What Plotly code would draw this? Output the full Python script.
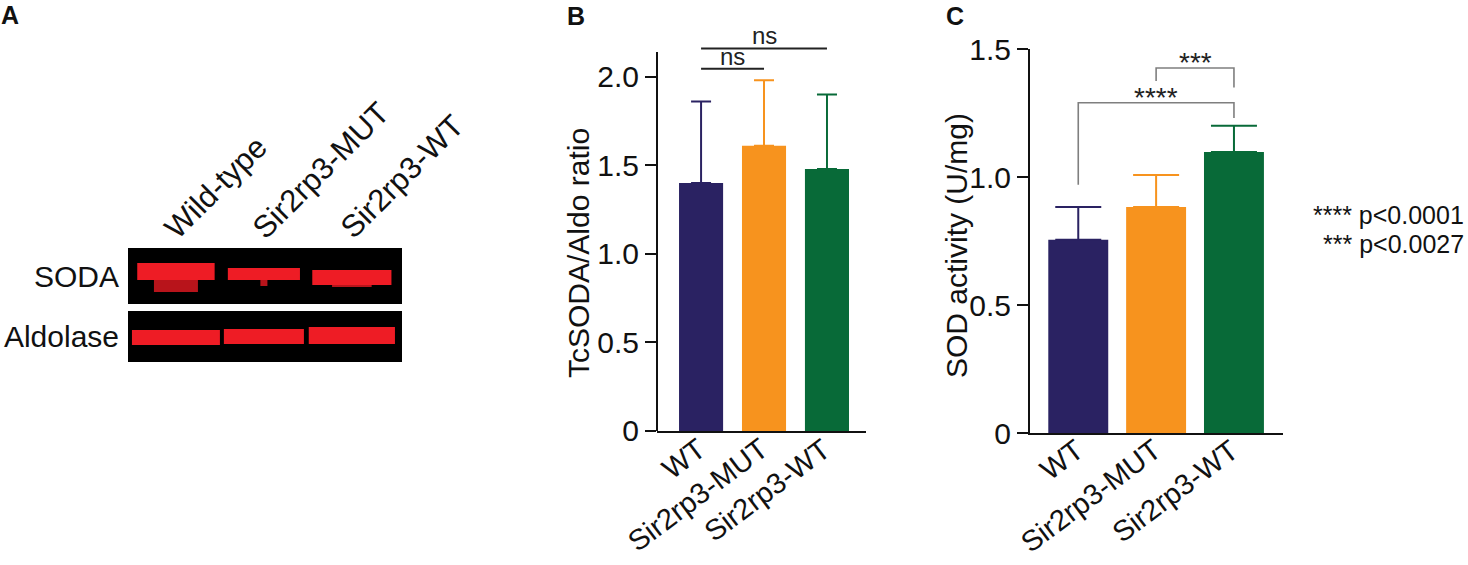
import plotly.graph_objects as go

W, H = 1468, 565
FONT = "Liberation Sans, Arial, sans-serif"

# ---------------- data ----------------
groups = ["WT", "Sir2rp3-MUT", "Sir2rp3-WT"]
colors = ["#2A2262", "#F7931E", "#086A38"]

ratio_mean = [1.40, 1.61, 1.48]        # panel B
ratio_err = [0.46, 0.37, 0.42]
ratio_ticks = [0, 0.5, 1.0, 1.5, 2.0]
ratio_ticktext = ["0", "0.5", "1.0", "1.5", "2.0"]
ratio_axis_top = 2.14

sod_mean = [0.755, 0.883, 1.098]       # panel C
sod_err = [0.128, 0.125, 0.102]
sod_ticks = [0, 0.5, 1.0, 1.5]
sod_ticktext = ["0", "0.5", "1.0", "1.5"]

# panel A western blot (lane index, band vertical extent and relative width)
lanes = ["Wild-type", "Sir2rp3-MUT", "Sir2rp3-WT"]
rows = ["SODA", "Aldolase"]
row_centers = [86, 25.5]
blot_top = 114
soda_base = [82, 82, 77]
soda_thick = [17, 12, 15]
soda_width = [0.88, 0.82, 0.90]
soda_smear_base = [70, 76, 75]
soda_smear_thick = [13, 6, 3]
soda_smear_width = [0.5, 0.08, 0.45]
aldo_base = [17, 18, 18]
aldo_thick = [15, 15, 17]
aldo_width = [1.0, 0.91, 0.98]

# significance annotations
ns_pairs = [(0, 1, 2.045), (0, 2, 2.16)]
brackets = [  # (x left, x right, y top, left leg bottom, right leg bottom, label)
    (0, 2, 1.29, 0.97, 1.23, "****"),
    (1, 2, 1.426, 1.375, 1.35, "***"),
]
pvalue_notes = ["**** p<0.0001", "*** p<0.0027"]


def px_x(p):
    return p / W


def px_y(p):
    return 1 - p / H


fig = go.Figure()

# ---------------- panel A ----------------
red = "#EE1C25"
fig.add_trace(go.Bar(x=[0, 1, 2], y=soda_smear_thick, base=soda_smear_base, width=soda_smear_width,
                     marker=dict(color="#B8141B", line=dict(width=0)),
                     xaxis="x3", yaxis="y3", showlegend=False, hoverinfo="skip"))
fig.add_trace(go.Bar(x=[0, 1, 2], y=soda_thick, base=soda_base, width=soda_width,
                     marker=dict(color=red, line=dict(width=0)),
                     xaxis="x3", yaxis="y3", showlegend=False, hoverinfo="skip"))
fig.add_trace(go.Bar(x=[0, 1, 2], y=aldo_thick, base=aldo_base, width=aldo_width,
                     marker=dict(color=red, line=dict(width=0)),
                     xaxis="x3", yaxis="y3", showlegend=False, hoverinfo="skip"))
for y0, y1 in [(58, blot_top), (0, 51)]:
    fig.add_shape(type="rect", xref="x3 domain", yref="y3", x0=0, x1=1, y0=y0, y1=y1,
                  fillcolor="black", line=dict(width=0), layer="below")
for i, lab in enumerate(lanes):
    fig.add_annotation(x=i, y=blot_top, xref="x3", yref="y3", text=lab, showarrow=False,
                       textangle=-45, xanchor="left", yanchor="bottom", xshift=-21, yshift=0,
                       font=dict(family=FONT, size=31, color="#111"))

# ---------------- panel B ----------------
for i, g in enumerate(groups):
    fig.add_trace(go.Bar(x=[i], y=[ratio_mean[i]], width=0.70,
                         marker=dict(color=colors[i], line=dict(width=0)),
                         error_y=dict(type="data", array=[ratio_err[i]], arrayminus=[0], symmetric=False,
                                      color=colors[i], thickness=2, width=10),
                         xaxis="x", yaxis="y", showlegend=False))

# y axis line of B drawn only up to its top value
fig.add_shape(type="line", xref="x domain", yref="y", x0=0, x1=0, y0=0, y1=ratio_axis_top,
              line=dict(color="#111", width=2))

for a, b, yv in ns_pairs:
    fig.add_shape(type="line", xref="x", yref="y", x0=a, x1=b, y0=yv, y1=yv,
                  line=dict(color="#222", width=2))
    fig.add_annotation(x=(a + b) / 2, y=yv, xref="x", yref="y", text="ns", showarrow=False,
                       yanchor="bottom", yshift=-3, font=dict(family=FONT, size=24, color="#222"))

# ---------------- panel C ----------------
for i, g in enumerate(groups):
    fig.add_trace(go.Bar(x=[i], y=[sod_mean[i]], width=0.77,
                         marker=dict(color=colors[i], line=dict(width=0)),
                         error_y=dict(type="data", array=[sod_err[i]], arrayminus=[0], symmetric=False,
                                      color=colors[i], thickness=2, width=23),
                         xaxis="x2", yaxis="y2", showlegend=False))

for xl, xr, yt, yl, yr, lab in brackets:
    fig.add_trace(go.Scatter(x=[xl, xl, xr, xr], y=[yl, yt, yt, yr], mode="lines",
                             line=dict(color="#7F7F7F", width=1.6),
                             xaxis="x2", yaxis="y2", showlegend=False, hoverinfo="skip"))
    fig.add_annotation(x=(xl + xr) / 2, y=yt, xref="x2", yref="y2", text=lab, showarrow=False,
                       yanchor="bottom", yshift=-12, font=dict(family=FONT, size=28, color="#222"))

# rotated category labels under the bars of B and C
for xr_, yr_, dx, dy in [("x", "y", 11, 0), ("x2", "y2", 12, 1)]:
    for i, g in enumerate(groups):
        fig.add_annotation(x=i, y=0, xref=xr_, yref=yr_, text=g, showarrow=False,
                           textangle=-37, xanchor="right", yanchor="top", xshift=dx, yshift=dy,
                           borderpad=0, font=dict(family=FONT, size=29, color="#111"))

# ---------------- axes ----------------
axis_common = dict(showgrid=False, zeroline=False, fixedrange=True, automargin=False)
tickfont = dict(family=FONT, size=30, color="#111")

b_unit = (431 - 52) / ratio_axis_top   # px per unit on panel B
b_range_top = 2.25

fig.update_layout(
    template="none",
    xaxis=dict(domain=[px_x(657), px_x(866)], range=[-0.70, 2.62], anchor="y",
               showline=True, linewidth=2, linecolor="#111", ticks="",
               tickvals=[0, 1, 2], showticklabels=False, **axis_common),
    yaxis=dict(domain=[px_y(431), px_y(431 - b_unit * b_range_top)], range=[0, b_range_top], anchor="x",
               showline=False, ticks="outside", ticklen=11,
               tickwidth=2, tickcolor="#111", tickvals=ratio_ticks, ticktext=ratio_ticktext,
               tickfont=tickfont, **axis_common),
    xaxis2=dict(domain=[px_x(1030), px_x(1283)], range=[-0.62, 2.63], anchor="y2",
                showline=True, linewidth=2, linecolor="#111", ticks="",
                tickvals=[0, 1, 2], showticklabels=False, **axis_common),
    yaxis2=dict(domain=[px_y(433), px_y(49)], range=[0, 1.5], anchor="x2",
                showline=True, linewidth=2, linecolor="#111", ticks="outside", ticklen=11,
                tickwidth=2, tickcolor="#111", tickvals=sod_ticks, ticktext=sod_ticktext,
                tickfont=tickfont, **axis_common),
    xaxis3=dict(domain=[px_x(128), px_x(402)], range=[-0.545, 2.57], anchor="y3", side="top",
                showline=False, ticks="", tickvals=[0, 1, 2], showticklabels=False, **axis_common),
    yaxis3=dict(domain=[px_y(362), px_y(248)], range=[0, blot_top], anchor="x3",
                showline=False, ticks="", tickvals=row_centers, ticktext=rows,
                ticklabelstandoff=8, tickfont=tickfont, **axis_common),
    barmode="overlay",
    width=W, height=H,
    margin=dict(l=0, r=0, t=0, b=0),
    paper_bgcolor="white", plot_bgcolor="white",
    font=dict(family=FONT, color="#111"),
    showlegend=False,
)

# axis titles
fig.add_annotation(x=px_x(578), y=px_y(253), xref="paper", yref="paper", text="TcSODA/Aldo ratio",
                   textangle=-90, showarrow=False, font=dict(family=FONT, size=30, color="#111"))
fig.add_annotation(x=px_x(957), y=px_y(246), xref="paper", yref="paper", text="SOD activity (U/mg)",
                   textangle=-90, showarrow=False, font=dict(family=FONT, size=30, color="#111"))

# panel letters
for lab, xp, yp in [("A", 10, 15), ("B", 576, 16), ("C", 955, 16)]:
    fig.add_annotation(x=px_x(xp), y=px_y(yp), xref="paper", yref="paper", text=f"<b>{lab}</b>",
                       xanchor="center", yanchor="middle", showarrow=False,
                       font=dict(family=FONT, size=25, color="#111"))

# p-value notes
for note, yp in zip(pvalue_notes, [215, 244]):
    fig.add_annotation(x=px_x(1466), y=px_y(yp), xref="paper", yref="paper", text=note,
                       xanchor="right", yanchor="middle", showarrow=False,
                       font=dict(family=FONT, size=25, color="#111"))

fig.write_html("out.html", config={"displayModeBar": False},
               post_script="document.body.style.margin='0px';document.body.style.overflow='hidden';")
